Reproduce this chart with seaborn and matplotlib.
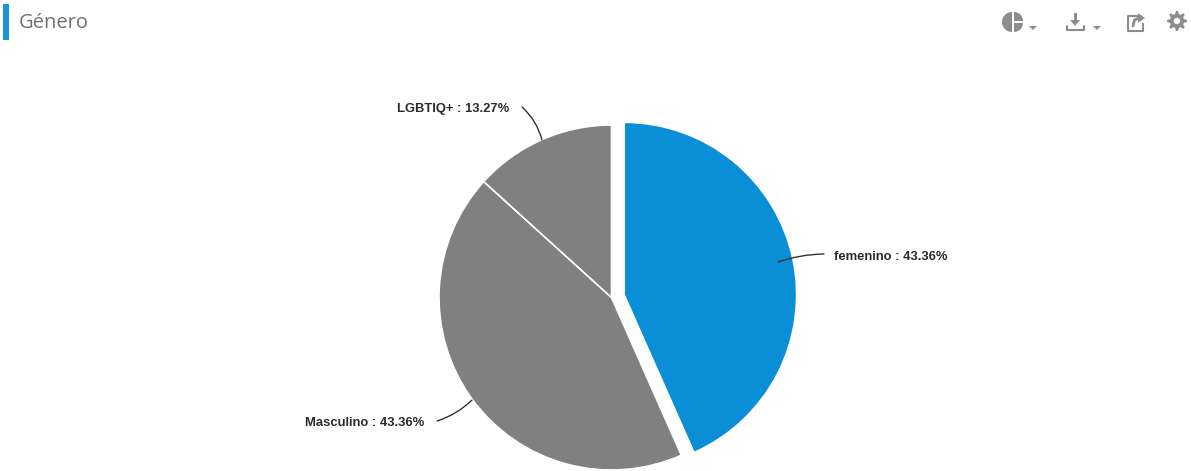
import matplotlib
matplotlib.use("Agg")
import matplotlib.pyplot as plt
from matplotlib.patches import Wedge, Rectangle, Circle, Polygon
import numpy as np
import seaborn as sns

# Survey results by gender
categories = ["femenino", "Masculino", "LGBTIQ+"]
shares = [43.36, 43.36, 13.27]
slice_colors = ["#0a8fd6", "#808080", "#808080"]
title = "Género"

W, H = 1191, 471
sns.set_theme(style="white")
plt.rcParams["font.family"] = ["Liberation Sans", "DejaVu Sans"]

fig = plt.figure(figsize=(W / 100, H / 100), dpi=100, facecolor="white")

# Pie sits in a square axes whose limits equal the radius, so offsets are in radii
cx, cy, r = 611.5, 297.5, 172.5
pie_ax = fig.add_axes([(cx - r) / W, 1 - (cy + r) / H, 2 * r / W, 2 * r / H])
pie_ax.pie(
    shares,
    colors=sns.color_palette(slice_colors),
    startangle=90,
    counterclock=False,
    explode=[0.075, 0, 0],
    radius=1,
    wedgeprops=dict(edgecolor="white", linewidth=1.2),
)
pie_ax.set_xlim(-1, 1)
pie_ax.set_ylim(-1, 1)
pie_ax.set_aspect("equal")
pie_ax.axis("off")
for wedge in pie_ax.patches:
    wedge.set_clip_on(False)

# Overlay in pixel coordinates for header, icons and leader lines
ov = fig.add_axes([0, 0, 1, 1])
ov.set_xlim(0, W)
ov.set_ylim(H, 0)
ov.axis("off")
ov.patch.set_alpha(0)

ov.add_patch(Rectangle((3, 4), 6, 36, color="#1b95d2", lw=0))
ov.text(19, 23, title, fontsize=14.5, color="#6e7072", va="center", ha="left",
        family=["Open Sans", "DejaVu Sans"])

# Slice labels with curved leaders
label_specs = [
    ((834, 257), (778, 262), "left", "arc3,rad=0.08"),
    ((424, 423), (472, 400), "right", "arc3,rad=0.12"),
    ((509, 109), (542, 140), "right", "arc3,rad=-0.15"),
]
for name, share, (txt, tip, ha, conn) in zip(categories, shares, label_specs):
    ov.text(txt[0], txt[1], f"{name} : {share:.2f}%", fontsize=9.4, fontweight="bold",
            color="#2b2b2b", ha=ha, va="center")
    start = (txt[0] - 10, txt[1] - 3) if ha == "left" else (txt[0] + 13, txt[1] - 2)
    ov.annotate("", xy=tip, xytext=start,
                arrowprops=dict(arrowstyle="-", color="#333333", lw=1.0,
                                connectionstyle=conn, shrinkA=0, shrinkB=0))

icon = "#8c8c8c"
# Chart-type icon: half disc plus two quarter slices
ov.add_patch(Wedge((1012, 22), 10, 90, 270, color=icon, lw=0))
ov.add_patch(Wedge((1014, 21), 9, 270, 360, color=icon, lw=0))
ov.add_patch(Wedge((1014, 23), 9, 0, 90, color=icon, lw=0))
ov.add_patch(Polygon([(1029, 26), (1037, 26), (1033, 30)], color=icon, lw=0))
# Download icon
ov.add_patch(Rectangle((1073.5, 13), 3, 10, color=icon, lw=0))
ov.add_patch(Polygon([(1070, 20), (1080, 20), (1075, 26)], color=icon, lw=0))
ov.plot([1066.5, 1066.5, 1084, 1084], [26, 30, 30, 26], color=icon, lw=1.5)
ov.add_patch(Polygon([(1093, 26), (1101, 26), (1097, 30)], color=icon, lw=0))
# Share icon
ov.plot([1138, 1127.5, 1127.5, 1143, 1143], [16, 16, 31, 31, 24], color=icon, lw=1.5)
ov.add_patch(Polygon([(1138, 13), (1145, 18), (1138, 23)], color=icon, lw=0))
ov.plot([1133, 1134.5, 1139], [26, 20, 18], color=icon, lw=2)
# Settings icon: eight-toothed gear
gx, gy = 1177, 21
angles = np.deg2rad(np.arange(0, 360, 11.25) + 5.6)
radii = np.tile([10, 7, 7, 10], 8)
ov.add_patch(Polygon(np.c_[gx + radii * np.cos(angles), gy + radii * np.sin(angles)],
                     color=icon, lw=0))
ov.add_patch(Circle((gx, gy), 3.2, color="white", lw=0))

fig.savefig("out.png", dpi=100, facecolor="white")
